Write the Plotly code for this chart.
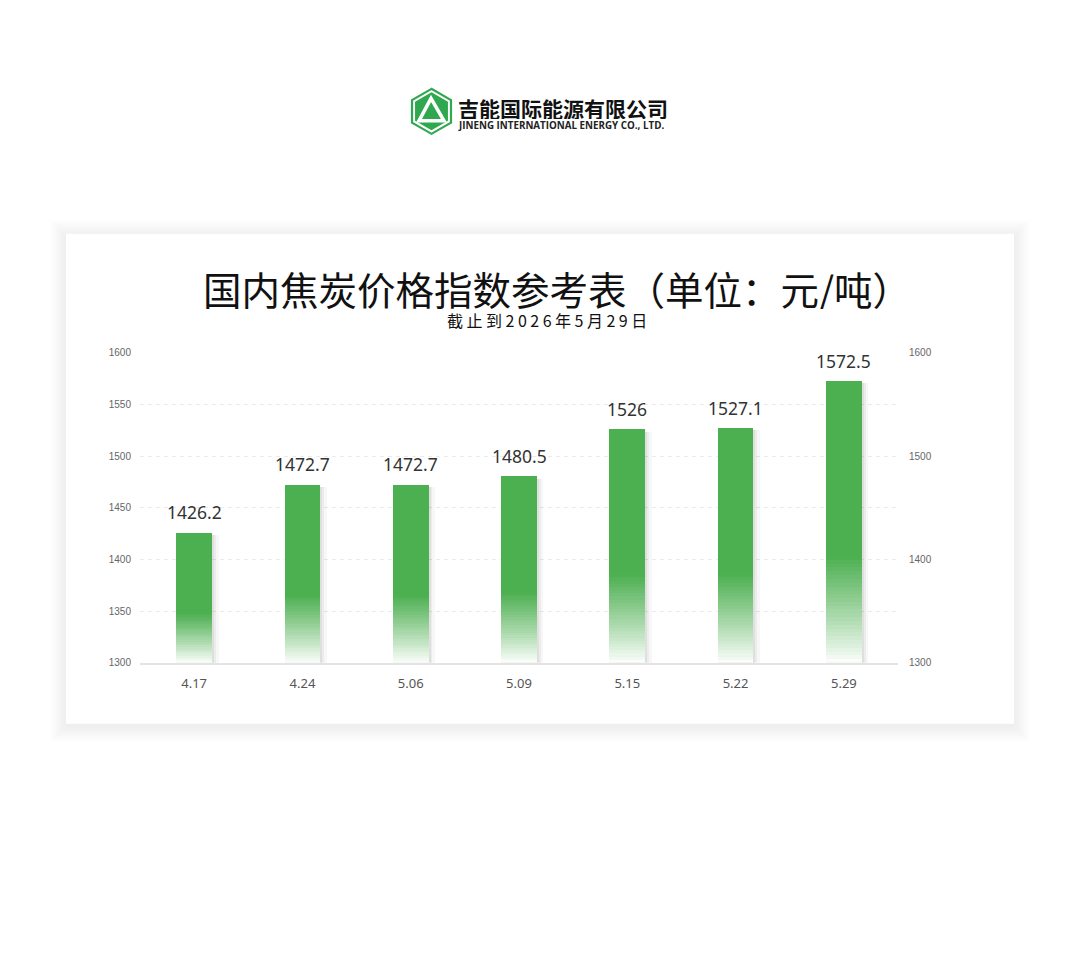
import math
import plotly.graph_objects as go

# ---------------- data ----------------
categories = ["4.17", "4.24", "5.06", "5.09", "5.15", "5.22", "5.29"]
values = [1426.2, 1472.7, 1472.7, 1480.5, 1526, 1527.1, 1572.5]
value_labels = ["1426.2", "1472.7", "1472.7", "1480.5", "1526", "1527.1", "1572.5"]
y_min, y_max = 1300, 1600
left_dtick, right_dtick = 50, 100

title_text = "国内焦炭价格指数参考表（单位：元/吨）"
subtitle_text = "截止到2026年5月29日"
company_cn = "吉能国际能源有限公司"
company_en = "JINENG INTERNATIONAL ENERGY CO., LTD."

# ---------------- helpers ----------------
W, H = 1080, 957
# the page is photographed with a slight vertical offset / scale; compensate
Y_OFF, Y_SCALE = 5.14, 0.9886


def px(x):
    return x / W


def py(y):
    return 1 - ((y - Y_OFF) / Y_SCALE) / H


GREEN = (76, 175, 80)
CJK = "Noto Sans CJK SC"

fig = go.Figure()

bar_w = 0.33
fade_frac = 0.38
N = 28

# soft shadow on right side of bars
for extra, alpha in [(0.06, 0.03), (0.035, 0.045), (0.018, 0.055)]:
    fig.add_trace(go.Bar(
        x=categories,
        y=[v - y_min - 2 for v in values],
        base=[y_min] * len(values),
        width=bar_w + extra,
        offset=-bar_w / 2,
        marker=dict(color=f"rgba(0,0,0,{alpha})", line=dict(width=0)),
        hoverinfo="skip", showlegend=False,
    ))

# gradient (fading) lower part of each bar
for k in range(N):
    t = (k + 0.5) / N
    t = t ** 0.9
    c = tuple(round(255 * (1 - t) + g * t) for g in GREEN)
    bases = [y_min + (v - y_min) * fade_frac * k / N for v in values]
    heights = [(v - y_min) * fade_frac / N + 0.3 for v in values]
    fig.add_trace(go.Bar(
        x=categories, y=heights, base=bases, width=bar_w,
        marker=dict(color=f"rgb{c}", line=dict(width=0)),
        hoverinfo="skip", showlegend=False,
    ))

# solid upper part
solid_base = [y_min + (v - y_min) * fade_frac for v in values]
fig.add_trace(go.Bar(
    x=categories, y=[v - b for v, b in zip(values, solid_base)], base=solid_base,
    width=bar_w,
    marker=dict(color="rgb(76,175,80)", line=dict(width=0)),
    customdata=values, hovertemplate="%{x}: %{customdata}<extra></extra>",
    showlegend=False,
))

# invisible trace for the right axis
fig.add_trace(go.Scatter(x=categories, y=values, yaxis="y2", mode="markers",
                         marker=dict(opacity=0), hoverinfo="skip", showlegend=False))

annotations = []
for i, (v, lab) in enumerate(zip(values, value_labels)):
    annotations.append(dict(
        x=i, y=v, xref="x", yref="y", text=lab, showarrow=False,
        yanchor="middle", yshift=20,
        font=dict(family="Noto Sans", size=17.5, color="#333333"),
    ))

# titles
annotations.append(dict(x=px(557), y=py(287), xref="paper", yref="paper",
                        text=title_text, showarrow=False, xanchor="center", yanchor="middle",
                        height=42, valign="middle",
                        font=dict(family=CJK, size=38.5, color="#111111")))
annotations.append(dict(x=px(549), y=py(318.5), xref="paper", yref="paper",
                        text=f'<span style="letter-spacing:3.5px">{subtitle_text}</span>',
                        showarrow=False, xanchor="center", yanchor="middle",
                        height=19, valign="middle",
                        font=dict(family=CJK, size=16, color="#111111")))
# logo text
annotations.append(dict(x=px(456), y=py(106.5), xref="paper", yref="paper",
                        text=f"<b>{company_cn}</b>", showarrow=False, xanchor="left", yanchor="middle",
                        height=23, valign="middle",
                        font=dict(family=CJK, size=21, color="#111111")))
annotations.append(dict(x=px(456), y=py(124.5), xref="paper", yref="paper",
                        text=f"<b>{company_en}</b>", showarrow=False, xanchor="left", yanchor="middle",
                        height=12, valign="middle",
                        font=dict(family="Open Sans", size=9.8, color="#222222")))

shapes = []
# card with soft shadow
cx0, cy0, cx1, cy1 = 66, 233, 1014, 723
for i in range(16, 0, -1):
    shapes.append(dict(type="rect", xref="paper", yref="paper", layer="below",
                       x0=px(cx0 - i), x1=px(cx1 + i), y0=py(cy1 + i + 3), y1=py(cy0 - i + 2),
                       fillcolor="rgba(0,0,0,0.005)", line=dict(width=0)))
shapes.append(dict(type="rect", xref="paper", yref="paper", layer="below",
                   x0=px(cx0), x1=px(cx1), y0=py(cy1), y1=py(cy0),
                   fillcolor="#ffffff", line=dict(width=0)))


def hex_path(cx, cy, r):
    pts = []
    for k in range(6):
        a = math.radians(90 + 60 * k)
        pts.append((px(cx + r * math.cos(a)), py(cy - r * math.sin(a))))
    return "M " + " L ".join(f"{x},{y}" for x, y in pts) + " Z"


lcx, lcy = 431.5, 110.5
shapes.append(dict(type="path", xref="paper", yref="paper", path=hex_path(lcx, lcy, 22.5),
                   fillcolor="rgba(0,0,0,0)", line=dict(color="#2fa84f", width=2.2)))
shapes.append(dict(type="path", xref="paper", yref="paper", path=hex_path(lcx, lcy, 19),
                   fillcolor="#2fa84f", line=dict(width=0)))
tri = [(431, 97.5), (419, 120), (444, 120)]
tri_path = "M " + " L ".join(f"{px(x)},{py(y)}" for x, y in tri) + " Z"
shapes.append(dict(type="path", xref="paper", yref="paper", path=tri_path,
                   fillcolor="rgba(0,0,0,0)", line=dict(color="#ffffff", width=3.5)))

tick_font = dict(family="Liberation Sans", size=10, color="#666666")

fig.update_layout(
    width=W, height=H,
    margin=dict(l=0, r=0, t=0, b=0),
    paper_bgcolor="#ffffff", plot_bgcolor="rgba(0,0,0,0)",
    barmode="overlay", bargap=0,
    showlegend=False,
    xaxis=dict(domain=[px(140), px(898)], type="category", categoryorder="array",
               categoryarray=categories, showgrid=False, zeroline=False,
               showline=True, linecolor="#e3e3e3", linewidth=1.5,
               ticks="", ticklabelstandoff=8,
               tickfont=dict(family="Noto Sans", size=13, color="#555555"),
               fixedrange=True),
    yaxis=dict(domain=[py(662), py(352)], range=[y_min, y_max], dtick=left_dtick, tick0=y_min,
               showgrid=True, gridcolor="#ebebeb", griddash="4px,4px", gridwidth=1,
               zeroline=False, showline=False, ticks="", ticklabelstandoff=8,
               tickfont=tick_font, fixedrange=True),
    yaxis2=dict(overlaying="y", side="right", anchor="x", range=[y_min, y_max],
                dtick=right_dtick, tick0=y_min, showgrid=False, zeroline=False,
                showline=False, ticks="", ticklabelstandoff=10,
                tickfont=tick_font, fixedrange=True),
    annotations=annotations,
    shapes=shapes,
)

fig.write_html("out.html", config={"displayModeBar": False},
               post_script="document.body.style.margin='0';")
